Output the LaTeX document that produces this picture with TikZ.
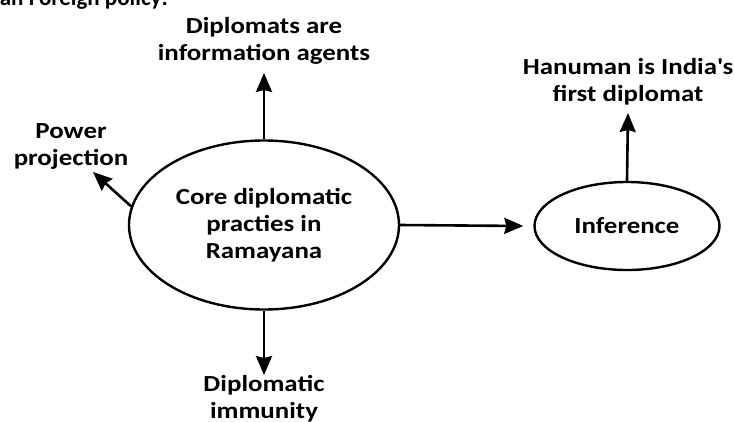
\documentclass[tikz,border=0pt]{standalone}
\usepackage{fontspec}
\setmainfont{Carlito}[FakeStretch=1.17]
\newfontfamily\plaincarlito{Carlito}
\usetikzlibrary{arrows.meta,shapes.geometric}
\tikzset{
  txt/.style={font=\bfseries\fontsize{23}{27}\selectfont},
  lbl/.style={txt, align=center, inner sep=0pt},
  oval/.style={ellipse, draw, line width=2.4pt, inner sep=0pt, txt, align=center},
  arr/.style={line width=2.6pt, -{Stealth[length=19pt,width=16pt,inset=2pt]}}
}
\begin{document}
\begin{tikzpicture}[x=1pt,y=1pt]
\useasboundingbox (0,0) rectangle (734,-421);
\clip (0,0) rectangle (734,-421);
\node[font=\plaincarlito\bfseries\fontsize{23}{27}\selectfont, inner sep=0pt, anchor=base east] (title) at (168,-5) {Indian Foreign policy:};
\node[oval, minimum width=270pt, minimum height=169pt] (core) at (264,-225) {Core diplomatic\\practies in\\Ramayana};
\node[oval, minimum width=185pt, minimum height=88pt] (inf) at (627,-226) {Inference};
\node[lbl, anchor=south] (dip) at (264,-65) {Diplomats are\\information agents};
\node[lbl, anchor=south] (pow) at (71,-170) {Power\\projection};
\node[lbl, anchor=north] (imm) at (264,-375) {Diplomatic\\immunity};
\node[lbl, anchor=south] (hanu) at (628,-105) {Hanuman is India\textquotesingle s\\first diplomat};
\coordinate (powtip) at (93,-172);
\draw[arr] (core.north) -- ([yshift=-8pt]dip.south);
\draw[arr] (core.172) -- (powtip);
\draw[arr] (core.south) -- (imm.north);
\draw[arr] (core.east) -- ([xshift=-10pt]inf.west);
\draw[arr] (inf.north) -- ([yshift=-8pt]hanu.south);
\end{tikzpicture}
\end{document}
